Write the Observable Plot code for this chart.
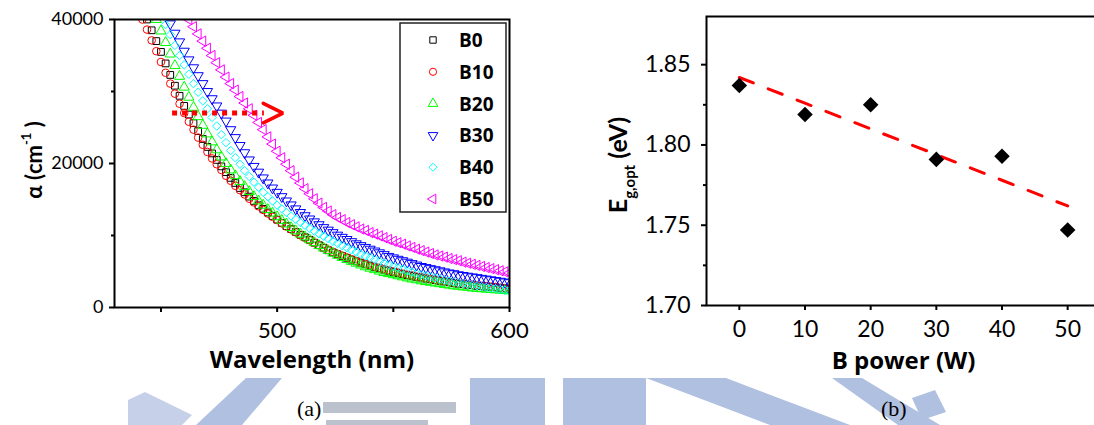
<!DOCTYPE html>
<html>
<head>
<meta charset="utf-8">
<script src="https://cdn.jsdelivr.net/npm/d3@7"></script>
<script src="https://cdn.jsdelivr.net/npm/@observablehq/plot@0.6"></script>
<style>
  html, body { margin: 0; padding: 0; background: #fff; }
  #page { position: relative; width: 1094px; height: 425px; overflow: hidden; background: #fff; }
  #page > * { position: absolute; }
  .caption { font-family: "Liberation Serif", "Times New Roman", serif; font-size: 22px; color: #000; }
</style>
</head>
<body>
<div id="page"></div>
<script>
// ---------- (a) absorption coefficient vs wavelength ----------
// shared wavelength grid (nm), 2 nm steps
const wavelength = [
  440,442,444,446,448,450,452,454,456,458,
  460,462,464,466,468,470,472,474,476,478,
  480,482,484,486,488,490,492,494,496,498,
  500,502,504,506,508,510,512,514,516,518,
  520,522,524,526,528,530,532,534,536,538,
  540,542,544,546,548,550,552,554,556,558,
  560,562,564,566,568,570,572,574,576,578,
  580,582,584,586,588,590,592,594,596,598,
  600
];

// alpha (cm^-1) for each film; null where the curve is above the plotted range
const alphaB0 = [
  null,null,40000,38500,37000,35500,33900,32300,30800,29400,
  28000,26800,25600,24500,23400,22300,21400,20500,19600,18800,
  18000,17300,16600,16000,15400,14800,14200,13700,13200,12700,
  12200,11750,11300,10900,10500,10100,9750,9400,9000,8650,
  8300,7950,7650,7400,7150,6900,6650,6400,6200,6000,
  5800,5600,5450,5250,5100,4950,4800,4650,4500,4400,
  4250,4150,4000,3900,3800,3700,3600,3500,3400,3300,
  3250,3150,3100,3000,2950,2900,2850,2800,2700,2650,
  2600
];
const alphaB10 = [
  null,40000,38600,37100,35600,34100,32600,31100,29700,28300,
  27000,25800,24700,23600,22600,21600,20700,19900,19100,18300,
  17600,16900,16300,15700,15100,14600,14050,13550,13050,12600,
  12150,11700,11250,10850,10450,10050,9700,9350,9000,8650,
  8300,8000,7700,7450,7200,6950,6700,6450,6250,6050,
  5850,5650,5500,5300,5150,5000,4850,4700,4550,4450,
  4300,4200,4050,3950,3850,3750,3650,3550,3450,3350,
  3300,3200,3150,3050,3000,2950,2900,2850,2750,2700,
  2650
];
const alphaB20 = [
  null,null,null,null,40000,38400,36800,35200,33600,32100,
  30600,29200,27800,26500,25300,24100,23000,21900,20900,20000,
  19100,18300,17500,16800,16100,15400,14800,14200,13600,13100,
  12600,12100,11600,11100,10650,10200,9800,9400,9000,8600,
  8250,7900,7550,7250,6950,6650,6400,6150,5900,5650,
  5450,5250,5050,4850,4700,4550,4400,4250,4100,3950,
  3850,3700,3600,3500,3400,3300,3200,3100,3000,2950,
  2850,2800,2700,2650,2600,2550,2500,2450,2400,2350,
  2300
];
const alphaB30 = [
  null,null,null,null,null,null,null,39400,38100,36900,
  35600,34400,33300,32200,31100,30000,29000,28000,27000,25900,
  24700,23600,22500,21500,20500,19600,18800,18000,17300,16600,
  16000,15400,14800,14250,13700,13200,12750,12300,11900,11500,
  11100,10750,10400,10050,9750,9450,9150,8850,8600,8350,
  8100,7850,7600,7350,7100,6900,6700,6500,6300,6100,
  5900,5700,5550,5400,5250,5100,4950,4800,4700,4550,
  4450,4350,4250,4150,4050,3950,3850,3750,3650,3550,
  3450
];
const alphaB40 = [
  null,null,null,null,null,null,39300,37900,36400,35000,
  33700,32400,31100,29900,28700,27600,26400,25200,24000,22900,
  21800,20800,19900,19000,18200,17400,16700,16000,15400,14800,
  14200,13700,13200,12700,12250,11800,11400,11000,10600,10250,
  9900,9550,9200,8900,8600,8300,8000,7700,7400,7150,
  6900,6650,6400,6150,5950,5700,5500,5300,5100,4900,
  4700,4550,4400,4250,4100,3950,3800,3650,3550,3400,
  3300,3200,3100,3000,2900,2800,2700,2600,2500,2400,
  2300
];
const alphaB50 = [
  null,null,null,null,null,null,null,null,null,null,
  null,40000,39000,38000,37000,36000,35000,34000,33000,32000,
  31100,30200,29300,28400,27600,26700,25700,24700,23700,22700,
  21700,20800,19900,19000,18100,17300,16500,15800,15100,14500,
  13900,13400,12900,12500,12200,11800,11500,11200,10900,10700,
  10400,10200,9950,9700,9450,9200,9000,8800,8550,8350,
  8100,7900,7700,7500,7300,7150,7000,6800,6650,6500,
  6300,6150,6000,5850,5700,5550,5400,5250,5100,4950,
  4800
];

const seriesNames = ["B0", "B10", "B20", "B30", "B40", "B50"];
const seriesAlpha = [alphaB0, alphaB10, alphaB20, alphaB30, alphaB40, alphaB50];
const seriesColors = ["#000000", "#ff0000", "#00ff00", "#0000ff", "#00ffff", "#ff00ff"];
const seriesSymbols = ["square", "circle", "triangle", "triangle", "diamond2", "triangle"];
const seriesRotate = [0, 0, 0, 180, 0, -90];

const alphaTicks = [0, 20000, 40000];
const alphaMinorTicks = [10000, 30000];
const wavelengthTicks = [500, 600];
const wavelengthMinorTicks = [450, 550];

// red "shift" arrow annotation (wavelength nm, alpha cm^-1)
const shiftLine = [{x1: 455, x2: 494.5, y: 27000}];
const shiftHead = [{x: 494, y: 28350}, {x: 502.5, y: 27000}, {x: 494, y: 25650}];

// ---------- (b) optical band gap vs B power ----------
const bPower = [0, 10, 20, 30, 40, 50];
const egOpt = [1.837, 1.819, 1.825, 1.791, 1.793, 1.747];
const egFit = [1.842, 1.826, 1.810, 1.794, 1.778, 1.762];
const powerTicks = [0, 10, 20, 30, 40, 50];
const egTicks = [1.70, 1.75, 1.80, 1.85];
const egMinorTicks = [1.725, 1.775, 1.825];

const page = document.getElementById("page");
const tickFont = "Lato, 'Open Sans', sans-serif";
const titleFont = "'Open Sans', Lato, sans-serif";

// ---------- build panel (a) ----------
const dotMarks = seriesAlpha.map((arr, k) => {
  const rows = wavelength.map((w, i) => ({wl: w, alpha: arr[i]})).filter(d => d.alpha != null);
  return Plot.dot(rows, {
    x: "wl", y: "alpha",
    symbol: seriesSymbols[k], rotate: seriesRotate[k],
    r: 3.8, stroke: seriesColors[k], strokeWidth: 1, fill: "none", clip: true
  });
});

const plotA = Plot.plot({
  width: 520, height: 380,
  marginLeft: 114, marginRight: 11, marginTop: 19, marginBottom: 73,
  x: {domain: [430, 600], label: null},
  y: {domain: [0, 40000], label: null},
  style: {fontFamily: tickFont, color: "#000", background: "transparent", overflow: "visible"},
  marks: [
    ...dotMarks,
    Plot.ruleY(shiftLine, {x1: "x1", x2: "x2", y: "y", stroke: "#ff0000", strokeWidth: 5, strokeDasharray: "5,5"}),
    Plot.line(shiftHead, {x: "x", y: "y", stroke: "#ff0000", strokeWidth: 3.5, strokeLinejoin: "miter"}),
    Plot.axisY({ticks: alphaTicks, tickSize: 5, tickPadding: 6, fontSize: 18, strokeWidth: 2, tickFormat: d => String(d), label: null}),
    Plot.axisY({ticks: alphaMinorTicks, tickSize: 3, strokeWidth: 2, tickFormat: () => "", label: null}),
    Plot.axisX({ticks: wavelengthTicks, tickSize: 5, tickPadding: 10, fontSize: 22, strokeWidth: 2, tickFormat: d => String(d), label: null}),
    Plot.axisX({ticks: wavelengthMinorTicks, tickSize: 5, strokeWidth: 2, tickFormat: () => "", label: null}),
    Plot.frame({stroke: "#000", strokeWidth: 2}),
    Plot.text(["Wavelength (nm)"], {frameAnchor: "bottom", dy: 60, fontSize: 24, fontWeight: "bold", fontFamily: titleFont})
  ]
});
plotA.style.left = "0px";
plotA.style.top = "0px";
page.appendChild(plotA);

// y title with superscript, and the legend box
{
  const svg = d3.select(plotA);
  const t = svg.append("text")
    .attr("transform", "translate(42,160) rotate(-90)")
    .attr("text-anchor", "middle")
    .attr("font-family", tickFont)
    .attr("font-weight", "bold")
    .attr("font-size", 22)
    .attr("fill", "#000");
  t.append("tspan").text("\u03b1 (cm");
  t.append("tspan").attr("font-size", 13).attr("dy", -11).text("-1");
  t.append("tspan").attr("dy", 11).text(" )");

  const g = svg.append("g");
  g.append("rect").attr("x", 400).attr("y", 23).attr("width", 106).attr("height", 189)
    .attr("fill", "#fff").attr("stroke", "#222").attr("stroke-width", 1.5);
  const symbolMap = {square: d3.symbolSquare, circle: d3.symbolCircle, triangle: d3.symbolTriangle, diamond2: d3.symbolDiamond2};
  seriesNames.forEach((name, k) => {
    const cy = 40 + k * 31.8;
    const size = Math.PI * 3.6 * 3.6;
    g.append("path")
      .attr("d", d3.symbol(symbolMap[seriesSymbols[k]], size)())
      .attr("transform", `translate(433,${cy}) rotate(${seriesRotate[k]})`)
      .attr("fill", "none").attr("stroke", seriesColors[k]).attr("stroke-width", 1);
    g.append("text").attr("x", 459).attr("y", cy + 7)
      .attr("text-anchor", "start")
      .attr("font-family", titleFont).attr("font-weight", "bold").attr("font-size", 19)
      .attr("fill", "#000").text(name);
  });
}

// ---------- build panel (b) ----------
const egRows = bPower.map((p, i) => ({power: p, eg: egOpt[i]}));
const fitRows = bPower.map((p, i) => ({power: p, eg: egFit[i]}));

const plotB = Plot.plot({
  width: 500, height: 380,
  marginLeft: 106, marginRight: 0, marginTop: 16, marginBottom: 75,
  x: {domain: [-5, 55], label: null},
  y: {domain: [1.70, 1.88], label: null},
  style: {fontFamily: tickFont, color: "#000", background: "transparent", overflow: "visible"},
  marks: [
    Plot.line(fitRows, {x: "power", y: "eg", stroke: "#ff0000", strokeWidth: 3, strokeDasharray: "15,16"}),
    Plot.dot(egRows, {x: "power", y: "eg", symbol: "diamond2", r: 7, fill: "#000", stroke: "none"}),
    Plot.axisX({ticks: powerTicks, tickSize: 5, tickPadding: 10, fontSize: 23, strokeWidth: 2, tickFormat: d => String(d), label: null}),
    Plot.axisY({ticks: egTicks, tickSize: 5, tickPadding: 11, fontSize: 23, strokeWidth: 2, tickFormat: d3.format(".2f"), label: null}),
    Plot.axisY({ticks: egMinorTicks, tickSize: 3, strokeWidth: 2, tickFormat: () => "", label: null}),
    Plot.frame({stroke: "#000", strokeWidth: 2}),
    Plot.text(["B power (W)"], {frameAnchor: "bottom", dy: 63, fontSize: 24, fontWeight: "bold", fontFamily: titleFont})
  ]
});
plotB.style.left = "600px";
plotB.style.top = "0px";
page.appendChild(plotB);

{
  const svg = d3.select(plotB);
  const t = svg.append("text")
    .attr("transform", "translate(27,165) rotate(-90)")
    .attr("text-anchor", "middle")
    .attr("font-family", tickFont)
    .attr("font-weight", "bold")
    .attr("font-size", 25)
    .attr("fill", "#000");
  t.append("tspan").text("E");
  t.append("tspan").attr("font-size", 15).attr("dy", 8).text("g,opt");
  t.append("tspan").attr("dy", -8).text(" (eV)");
}

// ---------- background emblem strip and captions ----------
const emblem = d3.select(page).insert("svg", ":first-child")
  .attr("width", 1094).attr("height", 425)
  .style("left", "0px").style("top", "0px");
const emblemShapes = [
  {pts: [[128,400],[145,392],[192,415],[182,425],[128,425]], fill: "#c6d0e8"},
  {pts: [[196,425],[242,425],[282,378],[246,378]], fill: "#b0c0e0"},
  {pts: [[323,402],[456,402],[456,413],[323,413]], fill: "#bcc1ce"},
  {pts: [[326,420],[428,420],[428,425],[326,425]], fill: "#bcc1ce"},
  {pts: [[470,378],[545,378],[545,425],[470,425]], fill: "#b0c0e0"},
  {pts: [[563,378],[646,378],[646,425],[563,425]], fill: "#b0c0e0"},
  {pts: [[646,378],[726,378],[850,425],[770,425]], fill: "#b0c0e0"},
  {pts: [[832,378],[862,378],[940,425],[898,425]], fill: "#b0c0e0"},
  {pts: [[912,398],[935,390],[946,412],[922,420]], fill: "#b0c0e0"}
];
emblem.selectAll("polygon").data(emblemShapes).join("polygon")
  .attr("points", d => d.pts.map(p => p.join(",")).join(" "))
  .attr("fill", d => d.fill);

const capA = document.createElement("div");
capA.className = "caption"; capA.textContent = "(a)";
capA.style.left = "297px"; capA.style.top = "396px";
page.appendChild(capA);
const capB = document.createElement("div");
capB.className = "caption"; capB.textContent = "(b)";
capB.style.left = "881px"; capB.style.top = "396px";
page.appendChild(capB);
</script>
</body>
</html>
